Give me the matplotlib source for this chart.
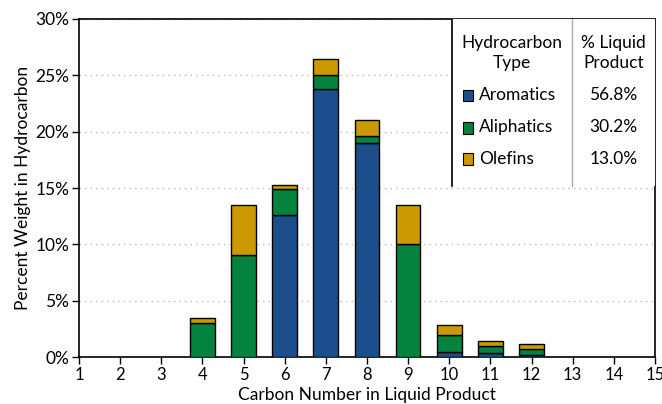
import matplotlib.pyplot as plt
import numpy as np
from matplotlib.patches import Rectangle

plt.rcParams['font.family'] = ['Lato', 'DejaVu Sans']

carbon = [4, 5, 6, 7, 8, 9, 10, 11, 12]
aromatics = [0.0, 0.0, 12.6, 23.75, 19.0, 0.0, 0.47, 0.33, 0.18]
aliphatics = [3.05, 9.02, 2.3, 1.27, 0.62, 10.0, 1.45, 0.67, 0.5]
olefins = [0.43, 4.44, 0.38, 1.42, 1.45, 3.46, 0.92, 0.39, 0.45]

types = ['Aromatics', 'Aliphatics', 'Olefins']
shares = ['56.8%', '30.2%', '13.0%']
colors = ['#1c4e8c', '#05823d', '#cc9900']

fs = 12.5
fig = plt.figure(figsize=(6.62, 4.04), dpi=100)
ax = fig.add_axes([0.1193, 0.1163, 0.8700, 0.8367])

x = np.array(carbon)
bottom = np.zeros(len(x))
for vals, c in zip([aromatics, aliphatics, olefins], colors):
    vals = np.array(vals)
    ax.bar(x, vals, width=0.6, bottom=bottom, color=c, edgecolor='black', linewidth=1, zorder=3)
    bottom += vals

ax.set_xlim(1, 15)
ax.set_ylim(0, 30)
ax.set_xticks(range(1, 16))
ax.set_yticks(range(0, 31, 5))
ax.set_yticklabels([f'{v}%' for v in range(0, 31, 5)])
ax.tick_params(labelsize=fs, direction='out', length=5, width=1, colors='black', pad=2)
ax.tick_params(axis='x', labelsize=12)
ax.yaxis.grid(True, linestyle=(0, (1, 3)), color='#bbbbbb', linewidth=1, zorder=0)
for s in ax.spines.values():
    s.set_linewidth(1.2)
ax.set_xlabel('Carbon Number in Liquid Product', fontsize=fs, labelpad=3)
ax.set_ylabel('Percent Weight in Hydrocarbon', fontsize=fs, labelpad=3)

# legend table
x0, x1, yb = 0.6476, 0.856, 0.506
ax.add_patch(Rectangle((x0, yb), 1 - x0, 1 - yb, transform=ax.transAxes,
                       facecolor='white', edgecolor='none', zorder=4))
ax.plot([x0, x0], [yb, 1], transform=ax.transAxes, color='black', lw=1.2, zorder=5)
ax.plot([x1, x1], [yb, 1], transform=ax.transAxes, color='#aaaaaa', lw=1, zorder=5)
cx1 = (x0 + x1) / 2
cx2 = (x1 + 1) / 2
ax.text(cx1, 0.899, 'Hydrocarbon\nType', transform=ax.transAxes, ha='center', va='center',
        fontsize=fs, linespacing=1.3, zorder=6)
ax.text(cx2, 0.899, '% Liquid\nProduct', transform=ax.transAxes, ha='center', va='center',
        fontsize=fs, linespacing=1.3, zorder=6)
rows_y = [0.774, 0.679, 0.587]
for ty, sh, c, ry in zip(types, shares, colors, rows_y):
    ax.add_patch(Rectangle((0.667, ry - 0.018), 0.018, 0.034, transform=ax.transAxes,
                           facecolor=c, edgecolor='black', lw=0.8, zorder=6))
    ax.text(0.694, ry, ty, transform=ax.transAxes, ha='left', va='center', fontsize=fs, zorder=6)
    ax.text(cx2, ry, sh, transform=ax.transAxes, ha='center', va='center', fontsize=fs, zorder=6)

fig.savefig('out.png', dpi=100)
